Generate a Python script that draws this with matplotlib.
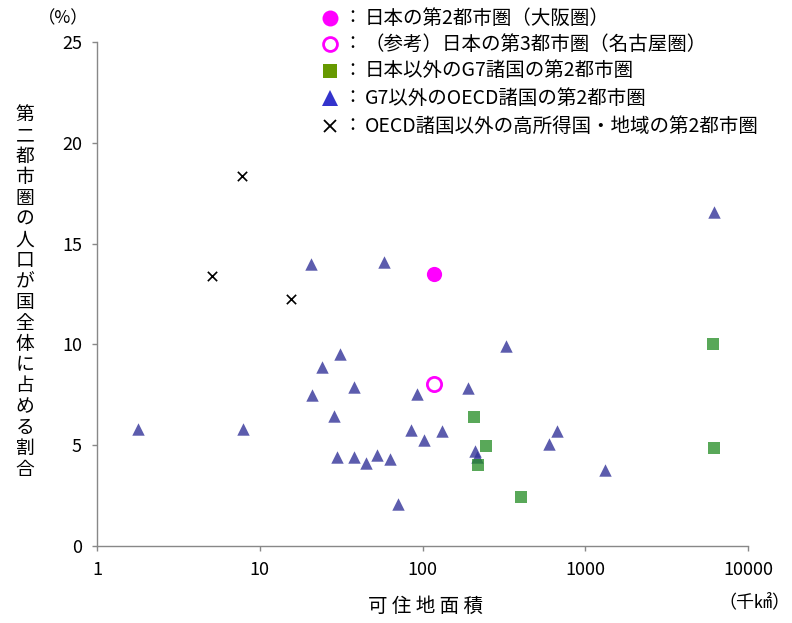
import matplotlib
matplotlib.use("Agg")
import matplotlib.pyplot as plt
from matplotlib.lines import Line2D

plt.rcParams['font.family'] = ['Noto Sans CJK JP', 'DejaVu Sans']

# Data (habitable area in thousand km2, share of population %)
osaka_x = [117]
osaka_y = [13.5]
nagoya_x = [117]
nagoya_y = [8.05]
g7_x = [6070, 6170, 207, 246, 219, 403]
g7_y = [10.02, 4.86, 6.4, 4.96, 4.02, 2.43]
oecd_x = [1.79, 7.9, 20.6, 58, 6180, 31.3, 24.2, 37.8, 20.9, 326, 92.5, 190, 28.5,
          85, 132, 102.6, 670, 598, 29.7, 38.1, 52.3, 63.4, 45, 209, 216, 1322, 71]
oecd_y = [5.8, 5.8, 14.0, 14.1, 16.55, 9.52, 8.9, 7.9, 7.5, 9.92, 7.52, 7.84, 6.43,
          5.74, 5.72, 5.27, 5.7, 5.06, 4.4, 4.43, 4.53, 4.33, 4.1, 4.7, 4.43, 3.75, 2.07]
other_x = [7.8, 5.1, 15.6]
other_y = [18.35, 13.4, 12.25]

x_ticks = [1, 10, 100, 1000, 10000]
x_tick_labels = ['1', '10', '100', '1000', '10000']
y_ticks = [0, 5, 10, 15, 20, 25]

legend_labels = [
    '日本の第2都市圏（大阪圏）',
    '（参考）日本の第3都市圏（名古屋圏）',
    '日本以外のG7諸国の第2都市圏',
    'G7以外のOECD諸国の第2都市圏',
    'OECD諸国以外の高所得国・地域の第2都市圏',
]

W, H = 792, 623
fig = plt.figure(figsize=(W / 100, H / 100), dpi=100)
ax = fig.add_axes([97 / W, 1 - 546 / H, (748 - 97) / W, (546 - 42) / H])

ax.scatter(other_x, other_y, marker='x', s=45, color='black', linewidths=1.2, zorder=3)
ax.scatter(oecd_x, oecd_y, marker='^', s=80, color='#333399', alpha=0.8, linewidths=0, zorder=3)
ax.scatter(g7_x, g7_y, marker='s', s=80, color='#228B22', alpha=0.75, linewidths=0, zorder=3)
ax.scatter(osaka_x, osaka_y, marker='o', s=120, color='#FF00FF', linewidths=0, zorder=4)
ax.scatter(nagoya_x, nagoya_y, marker='o', s=105, facecolor='white', edgecolor='#FF00FF',
           linewidths=2, zorder=4)

ax.set_xscale('log')
ax.set_xlim(1, 10000)
ax.set_ylim(0, 25)
ax.set_xticks(x_ticks)
ax.set_xticklabels(x_tick_labels)
ax.set_yticks(y_ticks)
ax.xaxis.set_minor_locator(matplotlib.ticker.NullLocator())

for s in ['top', 'right']:
    ax.spines[s].set_visible(False)
for s in ['left', 'bottom']:
    ax.spines[s].set_color('#888888')
    ax.spines[s].set_linewidth(1.0)
ax.tick_params(axis='both', direction='out', length=3.8, color='#888888', width=1.0,
               labelsize=13, labelcolor='black')
ax.tick_params(axis='x', pad=7)
ax.tick_params(axis='y', pad=7)

# Axis titles
fig.text(425 / W, 1 - 606 / H, '可 住 地 面 積', ha='center', va='center', fontsize=14)
fig.text(754 / W, 1 - 602 / H, '（千㎢）', ha='center', va='center', fontsize=13)
fig.text(63 / W, 1 - 18 / H, '（%）', ha='center', va='center', fontsize=12.5)
ylab = '第二都市圏の人口が国全体に占める割合'
fig.text(25 / W, 1 - 292 / H, '\n'.join(ylab), ha='center', va='center', fontsize=13.5,
         linespacing=0.99)

# Legend (manual)
rows_y = [18, 44, 71, 98, 126]
mx = 330 / W
styles = [
    dict(marker='o', markersize=11.5, color='#FF00FF', markeredgewidth=0),
    dict(marker='o', markersize=10, markerfacecolor='white', markeredgecolor='#FF00FF', markeredgewidth=2),
    dict(marker='s', markersize=10.5, color='#669900', markeredgewidth=0),
    dict(marker='^', markersize=12, color='#3333CC', markeredgewidth=0),
    dict(marker='x', markersize=8, color='black', markeredgewidth=1.3),
]
for ry, st, lab in zip(rows_y, styles, legend_labels):
    yy = 1 - ry / H
    fig.add_artist(Line2D([mx], [yy], linestyle='none', transform=fig.transFigure, **st))
    fig.text(352 / W, yy, '：', ha='center', va='center', fontsize=13)
    fig.text(365 / W, yy, lab, ha='left', va='center', fontsize=14)

fig.savefig('out.png', dpi=100)
